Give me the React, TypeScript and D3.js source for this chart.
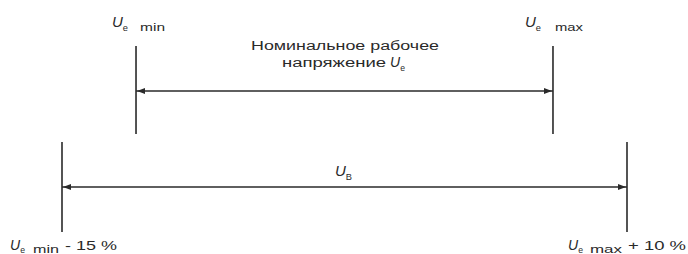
import React from "react";
import { scaleLinear } from "d3";

const width = 688, height = 254;

// schematic voltage levels, arbitrary units
// order: Ue min - 15 %, Ue min, Ue max, Ue max + 10 %
const levelNames = ["lowBound", "ueMin", "ueMax", "highBound"];
const levelValues = [0, 15, 99.5, 114.5];

const topTags = ["min", "max"];
const bottomTags = ["min", "max"];
const bottomTails = ["- 15 %", "+ 10 %"];
const nominalText = ["Номинальное рабочее", "напряжение"];
const rangeSub = "В";

const ink = "#2a2a2a";
const font = "'Liberation Sans', Arial, sans-serif";

const xScale = scaleLinear()
  .domain([levelValues[0], levelValues[3]])
  .range([62, 627]);

const lv = (name: string) => xScale(levelValues[levelNames.indexOf(name)]);

const Arrow = ({ x, y, dir }: { x: number; y: number; dir: number }) => (
  <path d={`M${x},${y} L${x + dir * 8},${y - 3} L${x + dir * 8},${y + 3} Z`} fill={ink} />
);

type UProps = {
  x: number; y: number; sub: string; tag?: string; tagX?: number; tagLen?: number;
  size?: number; tagSize?: number; subDy?: number;
};

const U = ({ x, y, sub, tag, tagX, tagLen, size = 14, tagSize = 10, subDy = 4 }: UProps) => (
  <g fontFamily={font} fill={ink}>
    <text x={x} y={y} fontSize={size}>
      <tspan fontStyle="italic">U</tspan>
      <tspan fontSize={size * 0.62} dy={subDy}>{sub}</tspan>
    </text>
    {tag && (
      <text x={tagX} y={y + subDy} fontSize={tagSize}
        textLength={tagLen} lengthAdjust={tagLen ? "spacingAndGlyphs" : undefined}>{tag}</text>
    )}
  </g>
);

const App = () => {
  const x0 = lv("lowBound"), x1 = lv("ueMin"), x2 = lv("ueMax"), x3 = lv("highBound");
  const yTop = 91, yBot = 187;
  return (
    <svg width={width} height={height} style={{ position: "absolute", left: 0, top: 0, background: "#fff" }}>
      <g stroke={ink} strokeWidth={1.6}>
        <line x1={x1} x2={x1} y1={46} y2={134} />
        <line x1={x2} x2={x2} y1={46} y2={134} />
        <line x1={x1} x2={x2} y1={yTop} y2={yTop} />
        <line x1={x0} x2={x0} y1={142} y2={232} />
        <line x1={x3} x2={x3} y1={142} y2={232} />
        <line x1={x0} x2={x3} y1={yBot} y2={yBot} />
      </g>
      <Arrow x={x1 + 1} y={yTop} dir={1} />
      <Arrow x={x2 - 1} y={yTop} dir={-1} />
      <Arrow x={x0 + 1} y={yBot} dir={1} />
      <Arrow x={x3 - 1} y={yBot} dir={-1} />

      <U x={x1 - 24} y={27} sub="e" tag={topTags[0]} tagX={x1 + 4} tagLen={25} size={15} tagSize={11} />
      <U x={x2 - 28} y={27} sub="e" tag={topTags[1]} tagX={x2 + 2} tagLen={28} size={15} tagSize={10} />

      <text x={251} y={50} fontFamily={font} fontSize={12.5} fill={ink}
        textLength={188} lengthAdjust="spacingAndGlyphs">{nominalText[0]}</text>
      <text x={282} y={67} fontFamily={font} fontSize={12.5} fill={ink}
        textLength={104} lengthAdjust="spacingAndGlyphs">{nominalText[1]}</text>
      <U x={390} y={67} sub="e" size={14} />

      <U x={335} y={176} sub={rangeSub} size={15} />

      <U x={10} y={250} sub="e" subDy={3} tag={bottomTags[0]} tagX={33} tagLen={26} size={14} tagSize={11} />
      <text x={65} y={250} fontFamily={font} fontSize={13.5} fill={ink}
        textLength={52} lengthAdjust="spacingAndGlyphs">{bottomTails[0]}</text>
      <U x={568} y={250} sub="e" subDy={3} tag={bottomTags[1]} tagX={590} tagLen={32} size={14} tagSize={11} />
      <text x={628} y={250} fontFamily={font} fontSize={13.5} fill={ink}
        textLength={58} lengthAdjust="spacingAndGlyphs">{bottomTails[1]}</text>
    </svg>
  );
};

export default App;
